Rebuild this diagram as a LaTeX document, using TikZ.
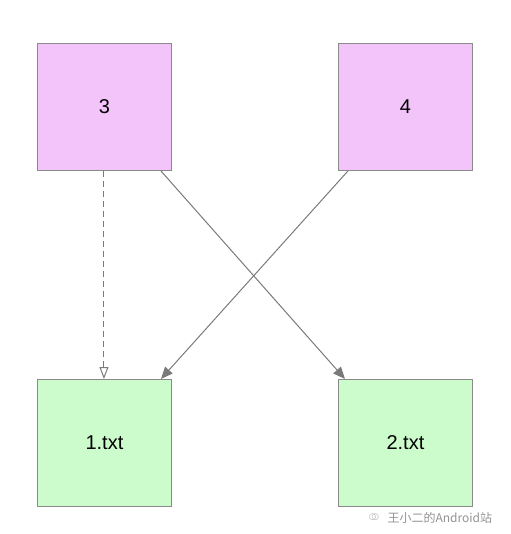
\documentclass[tikz,border=0pt]{standalone}
\usepackage{fontspec}
\setmainfont{Liberation Sans}
\newfontfamily\cjk{Noto Sans CJK SC}
\usetikzlibrary{arrows.meta,calc}
\definecolor{pinkfill}{HTML}{F2C4F9}
\definecolor{greenfill}{HTML}{CCFCCB}
\definecolor{edgegray}{HTML}{8A8A8A}
\definecolor{linegray}{HTML}{7A7A7A}
\tikzset{
  box/.style={draw=edgegray, line width=0.9pt, minimum width=134pt, minimum height=127pt, inner sep=0pt, font=\fontsize{20}{22}\selectfont, anchor=north west},
  pinkbox/.style={box, fill=pinkfill},
  greenbox/.style={box, fill=greenfill},
  conn/.style={draw=linegray, line width=1pt, -{Triangle[length=12pt,width=10pt]}},
  dconn/.style={draw=linegray, line width=1pt, dash pattern=on 6pt off 4pt, -{Triangle[open,length=12pt,width=9pt]}},
}
\begin{document}
\begin{tikzpicture}[x=1pt,y=-1pt]
\useasboundingbox (0,0) rectangle (510,534);
\node[pinkbox] (n3) at (37,43) {3};
\node[pinkbox] (n4) at (338,43) {4};
\node[greenbox] (f1) at (37,379) {1.txt};
\node[greenbox] (f2) at (338,379) {2.txt};
\draw[dconn] (n3.south) ++(-0.5,0) -- (f1.north -| {$(n3.south)+(-0.5,0)$});
\draw[conn] ($(n3.south east)+(-11,0)$) -- ($(f2.north west)+(7,0)$);
\draw[conn] ($(n4.south west)+(10,0)$) -- ($(f1.north east)+(-11,0)$);
\node[font=\cjk\fontsize{12}{14}\selectfont, text=gray!85, anchor=west] (wm) at (384,518) {王小二的Android站};
\node[font=\fontsize{16}{16}\selectfont, text=gray!50, anchor=east, inner sep=1pt] (wmicon) at ($(wm.west)+(-3,0)$) {$\circ\!\!\circ$};
\end{tikzpicture}
\end{document}
